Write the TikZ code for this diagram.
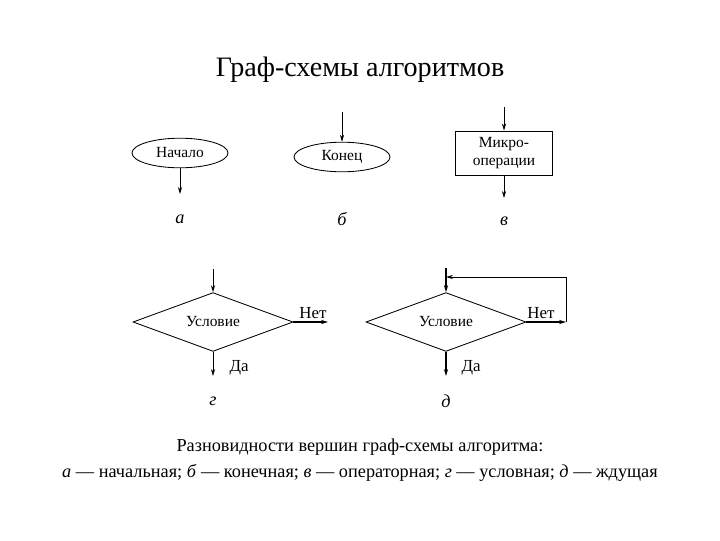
\documentclass[tikz,border=0pt]{standalone}
\usepackage{fontspec}
\setmainfont{Liberation Serif}
\usetikzlibrary{shapes.geometric, arrows.meta}

\begin{document}
\begin{tikzpicture}[x=0.025cm, y=-0.025cm, semithick,
    >={Stealth[length=5pt, width=3pt]},
    txt/.style={font=\fontsize{11}{13}\selectfont},
    oval/.style={ellipse, draw, txt, minimum width=2.4cm, minimum height=0.74cm, inner sep=0pt},
    opbox/.style={rectangle, draw, txt, align=center, minimum width=2.43cm, minimum height=1.1cm, inner sep=1pt},
    cond/.style={diamond, draw, txt, aspect=2.73, minimum width=4.0cm, minimum height=1.47cm, inner sep=0pt},
    letter/.style={font=\fontsize{13}{15}\selectfont\itshape},
    answer/.style={font=\fontsize{12}{14}\selectfont}]
  \useasboundingbox (0, 0) rectangle (720, 540);

  \node[font=\fontsize{20}{24}\selectfont] (title) at (360, 70) {Граф-схемы алгоритмов};

  % а, б, в
  \node[oval] (start) at (180, 153) {Начало};
  \coordinate (startout) at (180, 194);
  \draw[->] (start.south) -- (startout);
  \node[letter] (la) at (180, 219) {а};

  \node[oval] (stop) at (342, 157) {Конец};
  \coordinate (stopin) at (342, 112);
  \draw[->] (stopin) -- (stop.north);
  \node[letter] (lb) at (342, 219) {б};

  \node[opbox] (micro) at (504, 153) {Микро-\\операции};
  \coordinate (microin) at (504, 107);
  \coordinate (microout) at (504, 198);
  \draw[->] (microin) -- (micro.north);
  \draw[->] (micro.south) -- (microout);
  \node[letter] (lv) at (504, 221) {в};

  % г
  \node[cond] (cond1) at (213, 322) {Условие\hspace{8pt}};
  \coordinate (cond1in) at (213, 269);
  \coordinate (cond1yes) at (213, 376);
  \coordinate (cond1no) at (328, 322);
  \draw[->] (cond1in) -- (cond1.north);
  \draw[->] (cond1.south) -- (cond1yes);
  \draw[->, very thick] (cond1.east) -- (cond1no);
  \node[answer] (yes1) at (239, 368) {Да};
  \node[answer] (no1) at (313, 313) {Нет};
  \node[letter] (lg) at (213, 401) {г};

  % д
  \node[cond] (cond2) at (446, 322) {Условие\hspace{4pt}};
  \coordinate (cond2in) at (446, 268);
  \coordinate (cond2yes) at (446, 376);
  \coordinate (cond2no) at (566, 322);
  \coordinate (loopin) at (446, 277);
  \draw[->, very thick] (cond2in) -- (cond2.north);
  \draw[->, very thick] (cond2.south) -- (cond2yes);
  \draw[->, very thick] (cond2.east) -- (cond2no);
  \draw[->] (cond2no) |- (loopin);
  \node[answer] (yes2) at (471, 368) {Да};
  \node[answer] (no2) at (541, 313) {Нет};
  \node[letter] (ld) at (446, 401) {д};

  \node[font=\fontsize{13}{18}\selectfont, align=center] (caption) at (360, 460)
    {Разновидности вершин граф-схемы алгоритма:\\
     \textit{а} — начальная; \textit{б} — конечная; \textit{в} — операторная; \textit{г} — условная; \textit{д} — ждущая};
\end{tikzpicture}
\end{document}
